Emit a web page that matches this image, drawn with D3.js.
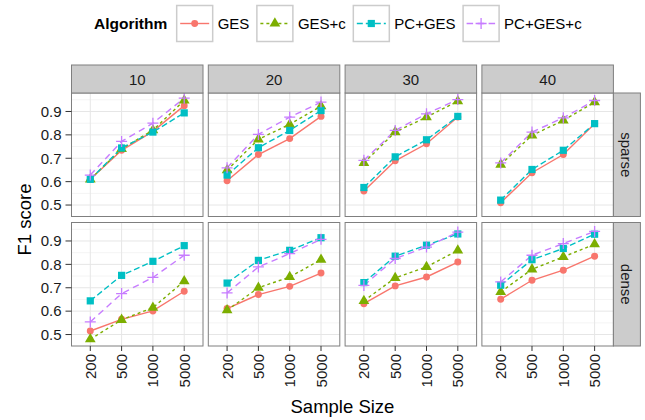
<!DOCTYPE html>
<html>
<head>
<meta charset="utf-8">
<script src="https://cdn.jsdelivr.net/npm/d3@7"></script>
<style>
  body { margin: 0; background: #fff; }
  svg { font-family: "Liberation Sans", Arial, sans-serif; }
</style>
</head>
<body>
<div id="chart"></div>
<script>
const sampleSizes = ['200', '500', '1000', '5000']
const nodeCounts = ['10', '20', '30', '40']
const densities = ['sparse', 'dense']
const algorithms = ['GES', 'GES+c', 'PC+GES', 'PC+GES+c']
const yTicks = [0.5, 0.6, 0.7, 0.8, 0.9]

// F1 score per node count (rows) x sample size (cols)
const gesSparse = [
  [0.610, 0.734, 0.815, 0.925],
  [0.604, 0.716, 0.784, 0.879],
  [0.560, 0.689, 0.762, 0.876],
  [0.510, 0.638, 0.716, 0.848],
]
const gesCSparse = [
  [0.610, 0.740, 0.820, 0.947],
  [0.649, 0.781, 0.845, 0.923],
  [0.680, 0.812, 0.876, 0.944],
  [0.673, 0.798, 0.862, 0.940],
]
const pcGesSparse = [
  [0.610, 0.744, 0.812, 0.894],
  [0.628, 0.745, 0.819, 0.904],
  [0.575, 0.706, 0.779, 0.879],
  [0.521, 0.652, 0.734, 0.848],
]
const pcGesCSparse = [
  [0.628, 0.772, 0.850, 0.957],
  [0.659, 0.802, 0.876, 0.940],
  [0.691, 0.819, 0.890, 0.951],
  [0.680, 0.812, 0.873, 0.947],
]
const gesDense = [
  [0.515, 0.565, 0.601, 0.685],
  [0.611, 0.671, 0.706, 0.763],
  [0.632, 0.708, 0.746, 0.810],
  [0.651, 0.732, 0.775, 0.835],
]
const gesCDense = [
  [0.480, 0.563, 0.615, 0.728],
  [0.604, 0.700, 0.746, 0.820],
  [0.644, 0.742, 0.789, 0.860],
  [0.682, 0.779, 0.832, 0.886],
]
const pcGesDense = [
  [0.644, 0.753, 0.813, 0.880],
  [0.720, 0.817, 0.860, 0.914],
  [0.722, 0.835, 0.882, 0.930],
  [0.711, 0.820, 0.868, 0.929],
]
const pcGesCDense = [
  [0.554, 0.675, 0.744, 0.839],
  [0.678, 0.789, 0.846, 0.907],
  [0.710, 0.825, 0.874, 0.938],
  [0.725, 0.839, 0.889, 0.941],
]

const scores = {
  sparse: [gesSparse, gesCSparse, pcGesSparse, pcGesCSparse],
  dense: [gesDense, gesCDense, pcGesDense, pcGesCDense],
}

const W = 645, H = 420
const colors = ['#F8766D', '#7CAE00', '#00BFC4', '#C77CFF']
const dashes = [null, '3,3', '6,3', '6.5,4.5']
const shapes = ['circle', 'triangle', 'square', 'plus']

const panelLeft = 71.5, panelW = 131.5, gapX = 5.3
const panelTop = 93, panelH = 123.5, gapY = 6
const stripH = 28, stripW = 27

const svg = d3.select('#chart').append('svg')
  .attr('width', W).attr('height', H)

const x = d3.scalePoint().domain(sampleSizes).range([0, panelW]).padding(0.6)
const y = d3.scaleLinear().domain([0.451, 0.979]).range([panelH, 0])

function drawShape(g, shape, color) {
  if (shape === 'plus') {
    g.append('path')
      .attr('d', 'M-5.5,0H5.5M0,-5.5V5.5')
      .attr('stroke', color).attr('stroke-width', 1.3).attr('fill', 'none')
  } else {
    const type = { circle: d3.symbolCircle, triangle: d3.symbolTriangle, square: d3.symbolSquare }[shape]
    const size = { circle: 38, triangle: 50, square: 52 }[shape]
    g.append('path')
      .attr('d', d3.symbol().type(type).size(size)())
      .attr('fill', color)
  }
}

densities.forEach((dens, ri) => {
  const py = panelTop + ri * (panelH + gapY)
  nodeCounts.forEach((nc, ci) => {
    const px = panelLeft + ci * (panelW + gapX)
    const g = svg.append('g').attr('transform', `translate(${px},${py})`)

    g.append('rect').attr('width', panelW).attr('height', panelH).attr('fill', '#fff')

    // minor grid
    g.selectAll('.minor')
      .data(yTicks.map(t => t + 0.05).concat([0.45]).filter(t => t > 0.451 && t < 0.979))
      .join('line')
        .attr('x1', 0).attr('x2', panelW)
        .attr('y1', d => y(d)).attr('y2', d => y(d))
        .attr('stroke', '#f4f4f4').attr('stroke-width', 1)
    // major grid
    g.selectAll('.hmajor')
      .data(yTicks)
      .join('line')
        .attr('x1', 0).attr('x2', panelW)
        .attr('y1', d => y(d)).attr('y2', d => y(d))
        .attr('stroke', '#e6e6e6').attr('stroke-width', 1)
    g.selectAll('.vmajor')
      .data(sampleSizes)
      .join('line')
        .attr('y1', 0).attr('y2', panelH)
        .attr('x1', d => x(d)).attr('x2', d => x(d))
        .attr('stroke', '#e6e6e6').attr('stroke-width', 1)

    const line = d3.line().x((d, i) => x(sampleSizes[i])).y(d => y(d))
    algorithms.forEach((alg, ai) => {
      g.append('path')
        .attr('d', line(scores[dens][ai][ci]))
        .attr('fill', 'none')
        .attr('stroke', colors[ai])
        .attr('stroke-width', 1.4)
        .attr('stroke-dasharray', dashes[ai])
    })
    algorithms.forEach((alg, ai) => {
      scores[dens][ai][ci].forEach((v, i) => {
        const pg = g.append('g').attr('transform', `translate(${x(sampleSizes[i])},${y(v)})`)
        drawShape(pg, shapes[ai], colors[ai])
      })
    })

    g.append('rect').attr('width', panelW).attr('height', panelH)
      .attr('fill', 'none').attr('stroke', '#7f7f7f').attr('stroke-width', 1)

    // top strip
    if (ri === 0) {
      svg.append('rect')
        .attr('x', px).attr('y', py - stripH).attr('width', panelW).attr('height', stripH)
        .attr('fill', '#cccccc').attr('stroke', '#7f7f7f').attr('stroke-width', 1)
      svg.append('text')
        .attr('x', px + panelW / 2).attr('y', py - stripH / 2 + 5.5)
        .attr('text-anchor', 'middle').attr('font-size', 15).attr('fill', '#1a1a1a')
        .text(nc)
    }

    // x axis
    if (ri === densities.length - 1) {
      const ax = g.append('g').attr('transform', `translate(0,${panelH})`)
      sampleSizes.forEach(s => {
        ax.append('line').attr('x1', x(s)).attr('x2', x(s)).attr('y1', 0).attr('y2', 5)
          .attr('stroke', '#333').attr('stroke-width', 1)
        ax.append('text')
          .attr('transform', `translate(${x(s) + 5.5},${8}) rotate(-90)`)
          .attr('text-anchor', 'end').attr('font-size', 15).attr('fill', '#1a1a1a')
          .text(s)
      })
    }

    // y axis
    if (ci === 0) {
      const ay = g.append('g')
      yTicks.forEach(t => {
        ay.append('line').attr('x1', -6).attr('x2', 0).attr('y1', y(t)).attr('y2', y(t))
          .attr('stroke', '#333').attr('stroke-width', 1)
        ay.append('text')
          .attr('x', -10).attr('y', y(t) + 5.3)
          .attr('text-anchor', 'end').attr('font-size', 15).attr('fill', '#1a1a1a')
          .text(d3.format('.1f')(t))
      })
    }
  })

  // right strip
  const sx = panelLeft + 4 * panelW + 3 * gapX
  svg.append('rect')
    .attr('x', sx).attr('y', py).attr('width', stripW).attr('height', panelH)
    .attr('fill', '#cccccc').attr('stroke', '#7f7f7f').attr('stroke-width', 1)
  svg.append('text')
    .attr('transform', `translate(${sx + stripW / 2 - 5.5},${py + panelH / 2}) rotate(90)`)
    .attr('text-anchor', 'middle').attr('font-size', 15).attr('fill', '#1a1a1a')
    .text(dens)
})

// axis titles
const plotMidX = panelLeft + (4 * panelW + 3 * gapX) / 2
svg.append('text')
  .attr('x', plotMidX).attr('y', 413)
  .attr('text-anchor', 'middle').attr('font-size', 18.5)
  .text('Sample Size')
svg.append('text')
  .attr('transform', `translate(31,${panelTop + panelH + gapY / 2}) rotate(-90)`)
  .attr('text-anchor', 'middle').attr('font-size', 18.5)
  .text('F1 score')

// legend
const legend = svg.append('g').attr('transform', 'translate(0,5)')
const title = legend.append('text')
  .attr('x', 94).attr('y', 24).attr('font-size', 15.5).attr('font-weight', 'bold')
  .text('Algorithm')
let lx = 94 + title.node().getComputedTextLength() + 9
algorithms.forEach((alg, ai) => {
  const kg = legend.append('g').attr('transform', `translate(${lx},0)`)
  kg.append('rect').attr('x', 0.5).attr('y', 0.5).attr('width', 36).attr('height', 36)
    .attr('fill', '#fff').attr('stroke', '#cccccc').attr('stroke-width', 1.5)
  kg.append('line').attr('x1', 4).attr('x2', 33).attr('y1', 18.5).attr('y2', 18.5)
    .attr('stroke', colors[ai]).attr('stroke-width', 1.4).attr('stroke-dasharray', dashes[ai])
  drawShape(kg.append('g').attr('transform', 'translate(18.5,18.5)'), shapes[ai], colors[ai])
  const t = kg.append('text').attr('x', 41.5).attr('y', 24).attr('font-size', 15).text(alg)
  lx += 41.5 + t.node().getComputedTextLength() + 7
})
</script>
</body>
</html>
